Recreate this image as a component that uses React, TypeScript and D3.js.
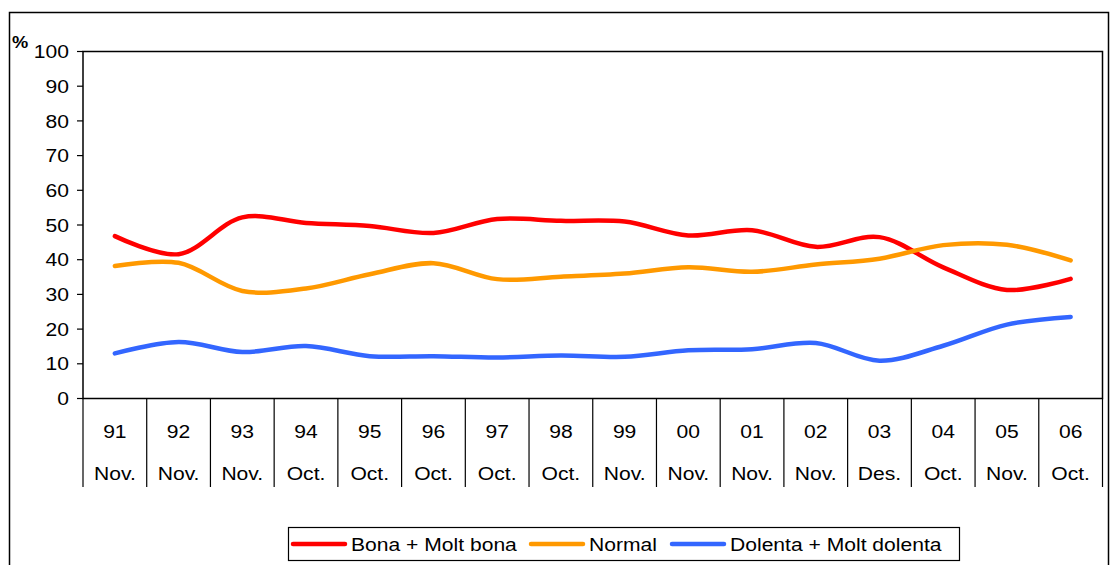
import React from "react";
import * as d3 from "d3";

const years = ["91","92","93","94","95","96","97","98","99","00","01","02","03","04","05","06"];
const months = ["Nov.","Nov.","Nov.","Oct.","Oct.","Oct.","Oct.","Oct.","Nov.","Nov.","Nov.","Nov.","Des.","Oct.","Nov.","Oct."];
const bona = [46.8,41.6,52.2,50.6,49.7,47.7,51.7,51.2,51.0,47.0,48.5,43.7,46.5,37.8,31.3,34.5];
const normal = [38.2,39.1,31.0,31.7,35.8,39.0,34.4,35.1,36.0,37.8,36.5,38.6,40.3,44.2,44.3,39.8];
const dolenta = [13.0,16.3,13.4,15.1,12.2,12.2,11.8,12.4,12.0,13.9,14.2,16.0,10.9,15.2,21.3,23.5];
const yTicks = [0,10,20,30,40,50,60,70,80,90,100];
const seriesNames = ["Bona + Molt bona","Normal","Dolenta + Molt dolenta"];
const seriesColors = ["#FF0000","#FF9900","#3366FF"];

const SX = 1.14;
function T(props: { x: number; y: number; anchor?: string; size?: number; weight?: string; children: React.ReactNode }) {
  const { x, y, anchor = "start", size = 18.5, weight = "normal", children } = props;
  return (
    <text transform={`translate(${x},${y}) scale(${SX},1)`} dy="0.36em" textAnchor={anchor} fontSize={size} fontWeight={weight}>
      {children}
    </text>
  );
}

export default function App() {
  const W = 1110, H = 565;
  const left = 83, right = 1102.5, top = 51.5, bottom = 398.5;
  const x = d3.scaleBand<string>().domain(years).range([left, right]).padding(0);
  const y = d3.scaleLinear().domain([0, 100]).range([bottom, top]);
  const line = d3.line<number>()
    .x((_, i) => (x(years[i]) as number) + x.bandwidth() / 2)
    .y((d) => y(d))
    .curve(d3.curveCatmullRom.alpha(0.5));
  const series = [bona, normal, dolenta];
  const font = "Arial, 'Liberation Sans', sans-serif";
  const legX = [293, 531, 672];
  return (
    <svg width={W} height={H} style={{ position: "absolute", left: 0, top: 0 }} fontFamily={font}>
      <rect x={0} y={0} width={W} height={H} fill="#fff" />
      <rect x={9.5} y={12.5} width={1099} height={560} fill="none" stroke="#000" strokeWidth={1.5} />
      <rect x={left} y={top} width={right - left} height={bottom - top} fill="#fff" stroke="#000" strokeWidth={1.5} />
      {yTicks.map((t) => (
        <g key={t}>
          <line x1={left - 6} x2={left} y1={y(t)} y2={y(t)} stroke="#000" strokeWidth={1.2} />
          <T x={69} y={y(t)} anchor="end">{t}</T>
        </g>
      ))}
      <T x={12} y={42} size={16} weight="bold">%</T>
      {years.map((yr, i) => {
        const bx = x(yr) as number;
        return (
          <g key={yr}>
            <line x1={bx} x2={bx} y1={bottom} y2={487} stroke="#000" strokeWidth={1.2} />
            <T x={bx + x.bandwidth() / 2} y={431} anchor="middle">{yr}</T>
            <T x={bx + x.bandwidth() / 2} y={473} anchor="middle">{months[i]}</T>
          </g>
        );
      })}
      <line x1={right} x2={right} y1={bottom} y2={487} stroke="#000" strokeWidth={1.2} />
      {series.map((s, k) => (
        <path key={k} d={line(s) || ""} fill="none" stroke={seriesColors[k]} strokeWidth={4.5} strokeLinecap="round" strokeLinejoin="round" />
      ))}
      <rect x={288.5} y={527.5} width={671} height={33} fill="#fff" stroke="#000" strokeWidth={1.2} />
      {seriesNames.map((n, k) => (
        <g key={n}>
          <line x1={legX[k]} x2={legX[k] + 52} y1={544} y2={544} stroke={seriesColors[k]} strokeWidth={4.5} strokeLinecap="round" />
          <T x={legX[k] + 58} y={544}>{n}</T>
        </g>
      ))}
    </svg>
  );
}
